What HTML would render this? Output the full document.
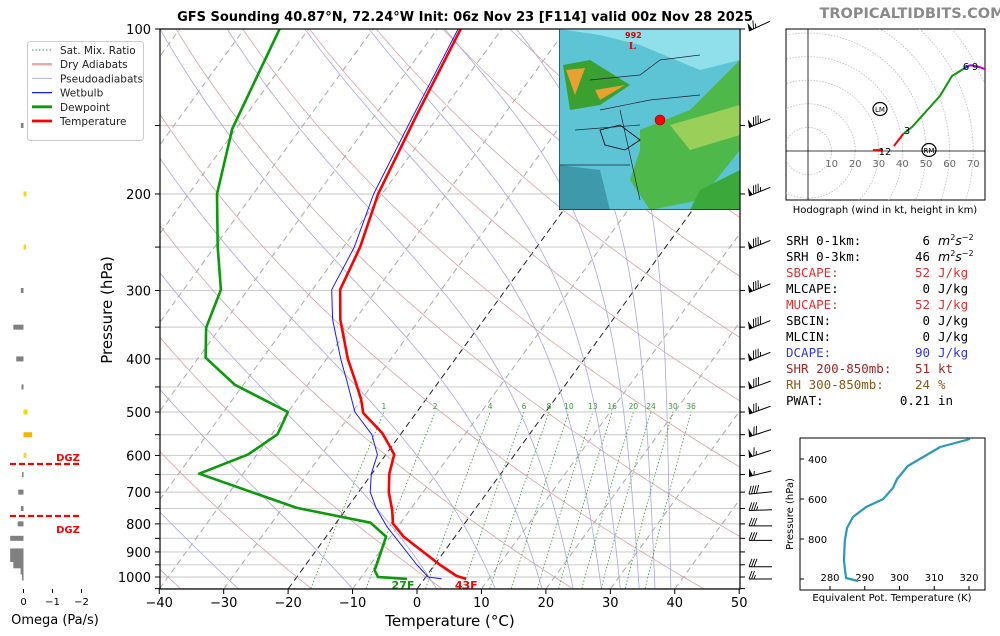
<!DOCTYPE html>
<html><head><meta charset="utf-8">
<style>
html,body{margin:0;padding:0;background:#fff;}
svg{display:block;font-family:"DejaVu Sans","Liberation Sans",sans-serif;}
</style></head>
<body>
<svg id="chart" width="1000" height="636" viewBox="0 0 1000 636" xmlns="http://www.w3.org/2000/svg">
<defs>
<clipPath id="plotclip"><rect x="160" y="29" width="580" height="560"/></clipPath>
<clipPath id="hodoclip"><rect x="786" y="29" width="199" height="171"/></clipPath>
<clipPath id="mapclip"><rect x="559" y="29" width="181" height="181"/></clipPath>
</defs>
<g id="bg" clip-path="url(#plotclip)"></g>
<g id="profiles" clip-path="url(#plotclip)"></g>
<g id="axes"></g>
<g id="barbs"></g>
<g id="omega"></g>
<g id="map" clip-path="url(#mapclip)">
  <rect x="559" y="29" width="181" height="181" fill="#5cc4d4"/>
  <path d="M559,29 L740,29 L740,60 L700,70 L640,45 L600,35 Z" fill="#8fe0ea"/>
  <path d="M640,130 L690,110 L740,60 L740,150 L700,200 L650,210 L630,180 L640,150 Z" fill="#4fb84a"/>
  <path d="M670,125 L740,105 L740,135 L690,150 Z" fill="#9ad05a"/>
  <path d="M700,190 L740,170 L740,210 L690,210 Z" fill="#3aa83a"/>
  <path d="M563,65 L590,60 L630,85 L600,105 L570,110 Z" fill="#3aa030"/>
  <path d="M566,70 L585,68 L575,95 Z" fill="#e8a030"/>
  <path d="M595,90 L625,85 L600,100 Z" fill="#e8a030"/>
  <path d="M559,165 L600,170 L610,210 L559,210 Z" fill="#3e9aaa"/>
  <path d="M600,130 L620,125 L640,140 L625,150 L605,145 Z" fill="none" stroke="#000" stroke-width="0.8"/>
  <path d="M590,80 L640,75 L660,60 L700,55 M600,110 L650,100 L700,95 M575,130 L640,125 M560,165 L630,165 M620,110 L640,200" fill="none" stroke="#223" stroke-width="0.7"/>
  <text x="625" y="38" font-size="8" fill="#d00" font-weight="bold">992</text>
  <text x="629" y="49" font-size="11" fill="#d00" font-weight="bold" font-family="Liberation Serif,serif">L</text>
  <circle cx="660" cy="120" r="5" fill="#f00" stroke="#900" stroke-width="0.6"/>
  <rect x="559" y="29" width="181" height="181" fill="none" stroke="#000" stroke-width="1"/>
</g>
<g id="legend"></g>
<g id="hodo"></g>
<g id="stats"></g>
<g id="thetae"></g>
<text x="465" y="21" text-anchor="middle" font-size="13" font-weight="bold">GFS Sounding 40.87°N, 72.24°W Init: 06z Nov 23 [F114] valid 00z Nov 28 2025</text>
<text x="912" y="18" text-anchor="middle" font-size="14.5" font-weight="bold" fill="#8a8a8a">TROPICALTIDBITS.COM</text>
</svg>
<script>
// ---- data ----
const tempP = [1008,996,951,844,799,754,700,648,598,580,546,502,475,437,400,339,299,250,200,144,100];
const tempT = [6.5,4.7,0.9,-8.0,-11.1,-12.8,-15.3,-17.3,-18.7,-20.1,-23.0,-28.2,-30.0,-33.2,-36.7,-42.3,-45.7,-47.4,-50.6,-53.5,-56.4];
const dewP = [1008,1000,972,944,844,796,748,648,598,549,500,446,398,351,299,250,200,152,100];
const dewT = [-2.7,-7.4,-8.7,-9.1,-10.7,-14.7,-27.8,-46.8,-41.4,-39.1,-40.0,-51.3,-58.9,-62.2,-64.2,-69.5,-75.6,-80.6,-84.5];
const wbP = [1008,1000,951,811,748,700,648,598,550,500,437,400,339,299,250,200,144,100];
const wbT = [2.7,0.4,-2.7,-11.6,-15.5,-18.2,-20.1,-21.3,-24.4,-29.6,-34.5,-37.8,-43.5,-47.0,-48.3,-51.3,-54.0,-56.8];
const mixRatios = [1,2,4,6,8,10,13,16,20,24,30,36];
const dryT0 = [-100,-80,-60,-40,-20,0,20,40,60,80,100,120,140,160,180,200];
const moistT0 = [-31,-13,0.5,10,17.5,22.5,27,30,33,35.5,38];
const omegaP = [150,200,250,300,350,400,450,500,550,600,650,700,750,800,850,900,925,950,975,1000];
const omegaV = [0.09,-0.1,-0.09,0.09,0.35,0.25,0.07,-0.14,-0.3,-0.1,0.05,0.18,0.09,0.2,0.46,0.46,0.46,0.35,0.1,0.05];
const barbP = [100,150,200,250,300,350,400,450,500,550,600,650,700,750,800,850,950,1000];
const barbSpd = [65,85,85,85,85,90,85,80,75,70,65,55,40,35,30,30,30,25];
const barbAng = [25,22,22,22,22,22,22,20,20,18,18,14,6,2,0,0,0,0];
const hodoU = [27.5,31.8,36.4,40.3,44.1,55.9,61.0,65.7,68.6,72.5,75.0];
const hodoV = [0.4,0.4,2.1,7.2,10.2,23.3,31.8,34.7,36.4,35.6,34.7];
const thetaP = [1010,995,905,805,745,690,640,600,545,500,435,340,300];
const thetaV = [288.1,284.6,284.0,284.3,284.9,286.6,290.4,295.3,298.1,299.3,302.4,311.7,320.3];
const tempTicks = [-40,-30,-20,-10,0,10,20,30,40,50];
const presTicks = [100,200,300,400,500,600,700,800,900,1000];

const NS = "http://www.w3.org/2000/svg";
function mk(parent, tag, attrs, text){
  const e = document.createElementNS(NS, tag);
  for (const k in attrs) e.setAttribute(k, attrs[k]);
  if (text !== undefined) e.textContent = text;
  parent.appendChild(e); return e;
}
const Y = p => 29 + 548*Math.log10(p/100);
const X = (T,p) => 417 + 6.444*T + 0.727*(589 - Y(p));
const pts = (Ts,Ps) => Ts.map((t,i)=>X(t,Ps[i]).toFixed(1)+","+Y(Ps[i]).toFixed(1)).join(" ");

// ---- background ----
const bg = document.getElementById('bg');
for (let p=100; p<=1050; p+=50){
  const l = mk(bg,'line',{x1:160,x2:740,y1:Y(p),y2:Y(p),stroke:'#d0d0d0','stroke-width':1.2});
  
  
}
for (let T=-120; T<=50; T+=10){
  const blk = (T===0||T===-20);
  const l = mk(bg,'line',{x1:X(T,1050),y1:Y(1050),x2:X(T,100),y2:Y(100),stroke:blk?'#222':'#aaa','stroke-width':1,'stroke-dasharray':'6,4'});
  
  
}
const levels=[]; for(let p=1050;p>=100;p-=10) levels.push(p);
dryT0.forEach(t0=>{
  const th=(t0+273.15);
  const Ts=levels.map(p=>th*Math.pow(p/1000,0.2857)-273.15);
  const l=mk(bg,'polyline',{points:pts(Ts,levels),fill:'none',stroke:'#d9a3a3','stroke-width':0.8});
  
  
});
function es(T){return 6.112*Math.exp(17.67*T/(T+243.5));}
function moistLapse(T0){
  const Ts=[],Ps=[];
  let T=T0+273.15, p=1000;
  const step=(T,p,dp)=>{
    const rs=0.622*es(T-273.15)/(p-es(T-273.15));
    const Lv=2.501e6, Rd=287, cp=1005;
    const dTdp=(Rd*T+Lv*rs)/(p*(cp+Lv*Lv*rs*0.622/(Rd*T*T)));
    return T+dTdp*dp;
  };
  let Td=T, pd=1000; const down=[];
  while(pd<1050){Td=step(Td,pd,5);pd+=5;down.push([pd,Td]);}
  down.reverse().forEach(a=>{Ps.push(a[0]);Ts.push(a[1]-273.15);});
  Ps.push(1000);Ts.push(T0);
  while(p>100){T=step(T,p,-5);p-=5;Ps.push(p);Ts.push(T-273.15);}
  return [Ts,Ps];
}
moistT0.forEach(t0=>{
  const r=moistLapse(t0);
  const l=mk(bg,'polyline',{points:pts(r[0],r[1]),fill:'none',stroke:'#a8a8e0','stroke-width':0.8});
  
  
});
const mlev=[]; for(let p=1050;p>=500;p-=25) mlev.push(p);
mixRatios.forEach(w=>{
  const Ts=mlev.map(p=>{const e=w*p/(622+w);const ln=Math.log(e/6.112);return 243.5*ln/(17.67-ln);});
  const l=mk(bg,'polyline',{points:pts(Ts,mlev),fill:'none',stroke:'#3a9a3a','stroke-width':0.8,'stroke-dasharray':'1.5,2'});
  
  
  const t=mk(bg,'text',{x:X(Ts[Ts.length-1],500),y:Y(500)-3,'font-size':7.5,fill:'#3a9a3a','text-anchor':'middle'},String(w));
  
  
});

// ---- profiles ----
const pr=document.getElementById('profiles');
let e;
e=mk(pr,'polyline',{points:pts(dewT,dewP),fill:'none',stroke:'#0a9a0a','stroke-width':2.6,'stroke-linejoin':'round'});
 
e=mk(pr,'polyline',{points:pts(tempT,tempP),fill:'none',stroke:'#ff0000','stroke-width':2.6,'stroke-linejoin':'round'});
 
e=mk(pr,'polyline',{points:pts(wbT,wbP),fill:'none',stroke:'#1a1aff','stroke-width':1,'stroke-linejoin':'round'});
 
e=mk(pr,'text',{x:X(dewT[0],dewP[0])-4,y:Y(1000)+12,'font-size':11,'font-weight':'bold',fill:'#0a9a0a','text-anchor':'middle'},'27F');
 
e=mk(pr,'text',{x:X(tempT[0],tempP[0]),y:Y(1000)+12,'font-size':11,'font-weight':'bold',fill:'#ff0000','text-anchor':'middle'},'43F');
 

// ---- axes ----
const ax=document.getElementById('axes');
e=mk(ax,'rect',{x:160,y:29,width:580,height:560,fill:'none',stroke:'#000','stroke-width':1.2});
 
tempTicks.forEach(T=>{
  const x=417+6.444*T;
  mk(ax,'line',{x1:x,x2:x,y1:589,y2:594,stroke:'#000'});
  const t=mk(ax,'text',{x:x,y:607,'font-size':13,'text-anchor':'middle'},(T<0?'\u2212'+(-T):String(T)));
   
});
for(let p=100;p<=1050;p+=50){
  mk(ax,'line',{x1:155,x2:160,y1:Y(p),y2:Y(p),stroke:'#000'});
  mk(ax,'line',{x1:740,x2:745,y1:Y(p),y2:Y(p),stroke:'#000'});
}
presTicks.forEach(p=>{
  const t=mk(ax,'text',{x:151,y:Y(p)+5,'font-size':13,'text-anchor':'end'},String(p));
   
});
e=mk(ax,'text',{x:450,y:626,'font-size':15,'text-anchor':'middle'},'Temperature (°C)');
 
e=mk(ax,'text',{x:112,y:310,'font-size':15,'text-anchor':'middle',transform:'rotate(-90 112 310)'},'Pressure (hPa)');
 

// ---- barbs ----
const bb=document.getElementById('barbs');
barbP.forEach((p,i)=>{
  const g=mk(bb,'g',{});
  
  
  const a=barbAng[i]*Math.PI/180;
  const x0=749, y0=Y(p)+2;
  const dx=Math.cos(a), dy=-Math.sin(a);
  const L=23;
  mk(g,'line',{x1:x0,y1:y0,x2:x0+dx*L,y2:y0+dy*L,stroke:'#000','stroke-width':1});
  let s=barbSpd[i], pos=0;
  function pt(d,h,lean){
    return [x0+dx*(d+lean)+dy*h, y0+dy*(d+lean)-dx*h];
  }
  while(s>=50){
    const b1=pt(pos,0,0), t1=pt(pos,8,2), b2=pt(pos+4,0,0);
    mk(g,'polygon',{points:`${b1[0]},${b1[1]} ${t1[0]},${t1[1]} ${b2[0]},${b2[1]}`,fill:'#000'});
    pos+=5; s-=50;
  }
  while(s>=10){
    const b1=pt(pos,0,0), t1=pt(pos,8,3);
    mk(g,'line',{x1:b1[0],y1:b1[1],x2:t1[0],y2:t1[1],stroke:'#000','stroke-width':0.9});
    pos+=2.5; s-=10;
  }
  if(s>=5){
    const b1=pt(pos,0,0), t1=pt(pos,4,1.5);
    mk(g,'line',{x1:b1[0],y1:b1[1],x2:t1[0],y2:t1[1],stroke:'#000','stroke-width':0.9});
  }
});

// ---- omega ----
const om=document.getElementById('omega');
const ox0=23.5, oscale=29;
omegaP.forEach((p,i)=>{
  const v=omegaV[i];
  const w=Math.abs(v)*oscale;
  const x=v>0?ox0-w:ox0;
  const h=p>=900?7:5;
  const col=v>0?'#808080':(v<-0.2?'#f4b400':'#ffd700');
  const r=mk(om,'rect',{x:x,y:Y(p)-h/2,width:Math.max(w,1.5),height:h,fill:col});
  
  
});
[0,-1,-2].forEach((v,i)=>{
  const x=ox0-v*oscale;
  mk(om,'line',{x1:x,x2:x,y1:589,y2:593,stroke:'#000'});
  const t=mk(om,'text',{x:x,y:605,'font-size':10,'text-anchor':'middle'},v===0?'0':'\u2212'+(-v));
   
});
e=mk(om,'text',{x:55,y:624,'font-size':13,'text-anchor':'middle'},'Omega (Pa/s)');
 
[[464,457],[516,529]].forEach(d=>{
  const l=mk(om,'line',{x1:10,x2:79,y1:d[0],y2:d[0],stroke:'#f00','stroke-width':2.2,'stroke-dasharray':'6,3'});
   
  const t=mk(om,'text',{x:68,y:d[1]+4,'font-size':10,'font-weight':'bold',fill:'#f00','text-anchor':'middle'},'DGZ');
   
});

// ---- legend ----
const lg=document.getElementById('legend');
mk(lg,'rect',{x:27.5,y:41.5,width:116,height:99,rx:3,fill:'#fff',stroke:'#ccc'});
const leg=[['Sat. Mix. Ratio','#3a9a3a',1,'1.5,2'],['Dry Adiabats','#e0b0b0',2.5,''],['Pseudoadiabats','#b0b0e8',1,''],['Wetbulb','#1a1aff',1.2,''],['Dewpoint','#0a9a0a',2.8,''],['Temperature','#ff0000',2.8,'']];
leg.forEach((d,i)=>{
  const y=50+i*14.2;
  const g=mk(lg,'g',{});
  
  
  mk(g,'line',{x1:32,x2:52,y1:y,y2:y,stroke:d[1],'stroke-width':d[2],'stroke-dasharray':d[3]});
  mk(g,'text',{x:60,y:y+4,'font-size':10.5,fill:'#222'},d[0]);
});

// ---- hodograph ----
const hd=document.getElementById('hodo');
const hx=808, hy=151, hs=2.36;
mk(hd,'rect',{x:786,y:29,width:199,height:171,fill:'#fff',stroke:'#000'});
const hc=mk(hd,'g',{'clip-path':'url(#hodoclip)'});
for(let r=10;r<=80;r+=10){
  mk(hc,'circle',{cx:hx,cy:hy,r:r*hs,fill:'none',stroke:'#bbb','stroke-width':0.8,'stroke-dasharray':'1.5,1.5'});
}
mk(hc,'line',{x1:786,x2:985,y1:hy,y2:hy,stroke:'#000','stroke-width':0.8});
mk(hc,'line',{x1:hx,x2:hx,y1:29,y2:200,stroke:'#000','stroke-width':0.8});
for(let r=10;r<=70;r+=10){
  const t=mk(hc,'text',{x:hx+r*hs,y:hy+16,'font-size':10,fill:'#666','text-anchor':'middle'},String(r));
   
}
const HP=i=>(hx+hodoU[i]*hs).toFixed(1)+','+(hy-hodoV[i]*hs).toFixed(1);
const segs=[[[0,1],'#f00'],[[2,3],'#f00'],[[3,4,5,6,7],'#0a9a0a'],[[7,8],'#33f'],[[8,9,10],'#c0c']];
segs.forEach(s=>{
  const l=mk(hc,'polyline',{points:s[0].map(HP).join(' '),fill:'none',stroke:s[1],'stroke-width':2});
   
});
[['12',885,151],['3',907,130],['6',966,66],['9',975,66]].forEach(d=>{
  const t=mk(hc,'text',{x:d[1],y:d[2]+4,'font-size':10,'text-anchor':'middle'},d[0]);
   
});
[['LM',880,109],['RM',929,150]].forEach(d=>{
  const g=mk(hc,'g',{});  
  mk(g,'ellipse',{cx:d[1],cy:d[2],rx:7,ry:6.5,fill:'none',stroke:'#000','stroke-width':1.2});
  mk(g,'text',{x:d[1],y:d[2]+3,'font-size':7,'text-anchor':'middle'},d[0]);
});
e=mk(hd,'text',{x:885,y:213,'font-size':10,'text-anchor':'middle'},'Hodograph (wind in kt, height in km)');
 

// ---- stats ----
const st=document.getElementById('stats');
const rows=[['SRH 0-1km:','6','m2s-2','#000'],['SRH 0-3km:','46','m2s-2','#000'],['SBCAPE:','52','J/kg','#e03030'],['MLCAPE:','0','J/kg','#000'],['MUCAPE:','52','J/kg','#e03030'],['SBCIN:','0','J/kg','#000'],['MLCIN:','0','J/kg','#000'],['DCAPE:','90','J/kg','#3535e0'],['SHR 200-850mb:','51','kt','#a02828'],['RH 300-850mb:','24','%','#8a5a18'],['PWAT:','0.21','in','#000']];
rows.forEach((r,i)=>{
  const y=245+i*16;
  const g=mk(st,'g',{'font-family':'"DejaVu Sans Mono","Liberation Mono",monospace','font-size':12.5,fill:r[3]});
   
  mk(g,'text',{x:786,y:y},r[0]);
  mk(g,'text',{x:930,y:y,'text-anchor':'end'},r[1]);
  if(r[2]==='m2s-2'){
    const t=mk(g,'text',{x:938,y:y,'font-style':'italic','font-family':'"DejaVu Sans",sans-serif'},'m');
    mk(t,'tspan',{dy:-5,'font-size':8,'font-style':'normal'},'2');
    mk(t,'tspan',{dy:5},'s');
    mk(t,'tspan',{dy:-5,'font-size':8,'font-style':'normal'},'\u22122');
  } else mk(g,'text',{x:938,y:y},r[2]);
});

// ---- theta-e ----
const te=document.getElementById('thetae');
const TX=v=>830+(v-280)*3.475, TY=p=>459+(p-400)*0.2;
mk(te,'rect',{x:800,y:438,width:185,height:152,fill:'#fff',stroke:'#000'});
[280,290,300,310,320].forEach(v=>{
  mk(te,'line',{x1:TX(v),x2:TX(v),y1:590,y2:586,stroke:'#000'});
  const t=mk(te,'text',{x:TX(v),y:581,'font-size':10,'text-anchor':'middle'},String(v));
   
});
[400,600,800,1000].forEach(p=>{
  mk(te,'line',{x1:800,x2:804,y1:TY(p),y2:TY(p),stroke:'#000'});
  if(p<1000){const t=mk(te,'text',{x:808,y:TY(p)+4,'font-size':10},String(p));
   }
});
e=mk(te,'polyline',{points:thetaV.map((v,i)=>TX(v).toFixed(1)+','+TY(thetaP[i]).toFixed(1)).join(' '),fill:'none',stroke:'#2a9ab8','stroke-width':2.2,'stroke-linejoin':'round'});
 
e=mk(te,'text',{x:892,y:601,'font-size':10,'text-anchor':'middle'},'Equivalent Pot. Temperature (K)');
 
e=mk(te,'text',{x:793,y:514,'font-size':10,'text-anchor':'middle',transform:'rotate(-90 793 514)'},'Pressure (hPa)');
 
</script>
</body></html>
